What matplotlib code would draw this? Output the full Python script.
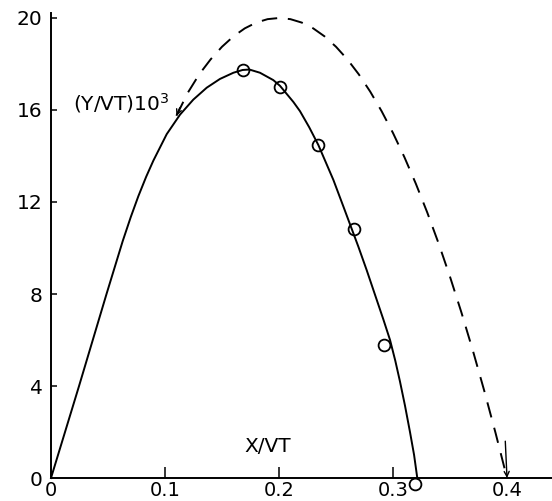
import matplotlib
matplotlib.use("Agg")
import matplotlib.pyplot as plt

solid_x = [0.0, 0.0246, 0.0487, 0.0629, 0.0700, 0.0766, 0.0835, 0.0898, 0.1015,
           0.1132, 0.1248, 0.1366, 0.1482, 0.1600, 0.1680, 0.1740, 0.1833,
           0.1950, 0.2009, 0.2126, 0.2184, 0.2265, 0.2345, 0.2477, 0.2565,
           0.2696, 0.2769, 0.2857, 0.2915, 0.2974, 0.3020, 0.3061, 0.3105,
           0.3149, 0.3185, 0.3213]
solid_y = [0.0, 4.0, 8.0, 10.3, 11.35, 12.25, 13.1, 13.8, 14.95,
           15.8, 16.45, 16.97, 17.35, 17.62, 17.74, 17.76, 17.62,
           17.3, 17.05, 16.35, 15.95, 15.25, 14.48, 12.96, 11.8,
           10.06, 9.04, 7.75, 6.9, 6.0, 5.1, 4.2, 3.15,
           2.0, 1.0, 0.0]

# Data points (open circles)
pts_x = [0.168, 0.2009, 0.2345, 0.2658, 0.2921, 0.3194]
pts_y = [17.74, 16.99, 14.48, 10.81, 5.78, -0.28]

# Drag-free trajectory (dashed line)
dash_x = [0.110, 0.120, 0.130, 0.140, 0.150, 0.160, 0.170, 0.180, 0.190, 0.200,
          0.210, 0.220, 0.230, 0.240, 0.250, 0.260, 0.270, 0.280, 0.290, 0.300,
          0.310, 0.320, 0.330, 0.340, 0.350, 0.360, 0.370, 0.380, 0.390, 0.400]
dash_y = [15.75, 16.75, 17.55, 18.2, 18.75, 19.2, 19.55, 19.8, 19.95, 20.0,
          19.95, 19.8, 19.55, 19.2, 18.75, 18.2, 17.55, 16.8, 15.95, 15.0,
          13.95, 12.8, 11.55, 10.2, 8.75, 7.2, 5.55, 3.8, 1.95, 0.0]

xticks = [0.0, 0.1, 0.2, 0.3, 0.4]
xtick_labels = ["0", "0.1", "0.2", "0.3", "0.4"]
yticks = [0, 4, 8, 12, 16, 20]
ytick_labels = ["0", "4", "8", "12", "16", "20"]

plt.rcParams["font.family"] = ["DejaVu Sans"]
plt.rcParams["mathtext.default"] = "regular"

fig = plt.figure(figsize=(5.52, 5.01), dpi=100)
ax = fig.add_axes([51 / 552, 23 / 501, 501 / 552, 465 / 501])
ax.set_xlim(0, 501 / 1140)
ax.set_ylim(0, 465 / 23)

ax.plot(solid_x, solid_y, color="black", lw=1.4, clip_on=False, zorder=3)
ax.plot(dash_x, dash_y, color="black", lw=1.4, dashes=(8, 5.5), clip_on=False, zorder=3)
ax.plot(pts_x, pts_y, "o", ms=8.5, mfc="none", mec="black", mew=1.3, clip_on=False, zorder=4)

# arrow heads at both ends of the dashed curve
ax.annotate("", xy=(dash_x[0], dash_y[0]), xytext=(0.113, 16.1),
            arrowprops=dict(arrowstyle="->", lw=1.0, color="black", mutation_scale=9,
                            shrinkA=0, shrinkB=0))
ax.annotate("", xy=(dash_x[-1], dash_y[-1]), xytext=(0.3985, 1.6),
            arrowprops=dict(arrowstyle="->", lw=1.0, color="black", mutation_scale=9,
                            shrinkA=0, shrinkB=0))

ax.text(0.019, 16.0, r"(Y/VT)10$^3$", fontsize=14.5, ha="left", va="baseline")
ax.text(0.190, 1.36, "X/VT", fontsize=14.5, ha="center", va="center")

for s in ["top", "right"]:
    ax.spines[s].set_visible(False)
for s in ["left", "bottom"]:
    ax.spines[s].set_linewidth(1.4)

ax.set_xticks(xticks)
ax.set_xticklabels(xtick_labels)
ax.set_yticks(yticks)
ax.set_yticklabels(ytick_labels)
ax.tick_params(axis="x", direction="in", length=8, width=1.1, pad=2.5, labelsize=14)
ax.tick_params(axis="y", direction="in", length=4.5, width=1.1, pad=6, labelsize=14.5)
xt = ax.xaxis.get_major_ticks()
xt[0].tick1line.set_visible(False)
xt[-1].tick1line.set_visible(False)
ax.yaxis.get_major_ticks()[0].tick1line.set_visible(False)

fig.savefig("out.png", dpi=100)
